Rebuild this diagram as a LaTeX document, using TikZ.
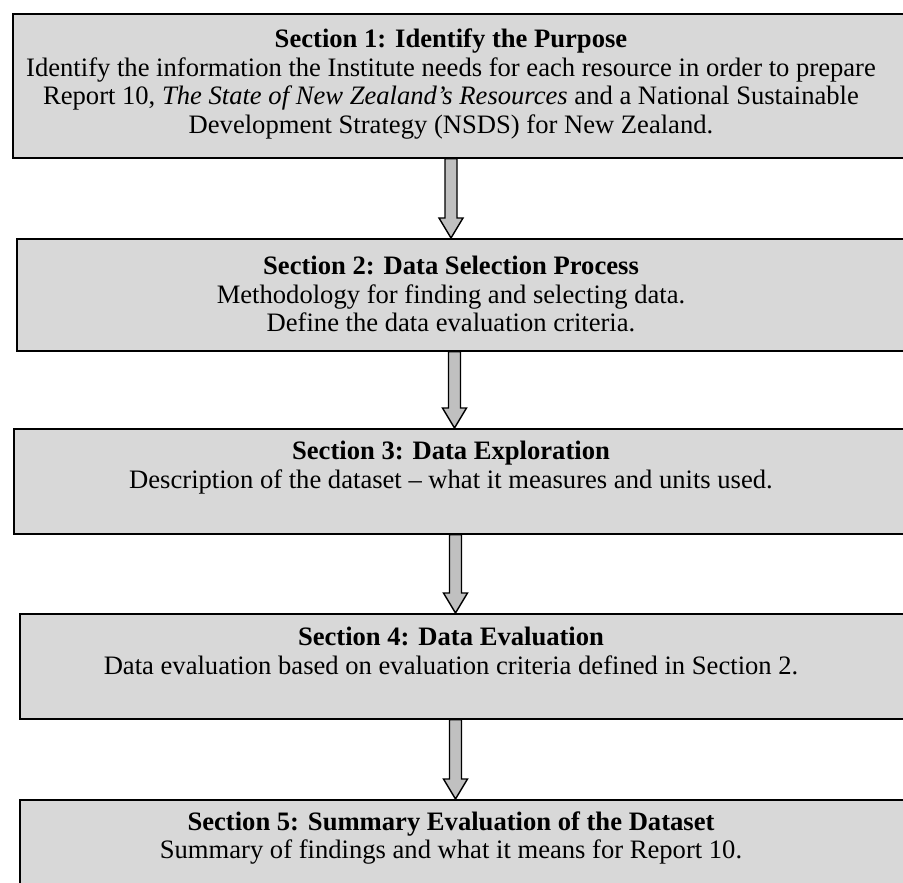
\documentclass[tikz,border=0pt]{standalone}
\usepackage{fontspec}
\setmainfont{Liberation Serif}
\usetikzlibrary{calc}
\definecolor{boxgray}{HTML}{D8D8D8}
\definecolor{arrgray}{HTML}{C0C0C0}
\tikzset{
  secbox/.style={draw=black, line width=0.9pt, fill=boxgray, anchor=north west, minimum width=#1, inner sep=0pt},
  sectext/.style={align=center, font=\fontsize{14.9}{16.2}\selectfont, inner sep=0pt},
  flowarr/.style={draw=black, line width=0.8pt, fill=arrgray, line join=miter}
}
\begin{document}
\begin{tikzpicture}[x=0.56pt,y=-0.56pt]
\clip (0,0) rectangle (903,883);
\fill[white] (0,0) rectangle (903,883);
% boxes
\node[secbox=900*0.56pt, minimum height=144*0.56pt] (b1) at (12,13) {};
\node[secbox=900*0.56pt, minimum height=112*0.56pt] (b2) at (16,238) {};
\node[secbox=900*0.56pt, minimum height=105*0.56pt] (b3) at (13,428) {};
\node[secbox=900*0.56pt, minimum height=105*0.56pt] (b4) at (19,613) {};
\node[secbox=900*0.56pt, minimum height=120*0.56pt] (b5) at (19,799) {};
% texts
\node[sectext] (t1) at (451,84) {\textbf{Section 1: Identify the Purpose}\\
Identify the information the Institute needs for each resource in order to prepare\\
Report 10, \textit{The State of New Zealand’s Resources} and a National Sustainable\\
Development Strategy (NSDS) for New Zealand.};
\node[sectext] (t2) at (451,294) {\textbf{Section 2: Data Selection Process}\\
Methodology for finding and selecting data.\\
Define the data evaluation criteria.};
\node[sectext] (t3) at (451,468) {\textbf{Section 3: Data Exploration}\\
Description of the dataset – what it measures and units used.};
\node[sectext] (t4) at (451,651) {\textbf{Section 4: Data Evaluation}\\
Data evaluation based on evaluation criteria defined in Section 2.};
\node[sectext] (t5) at (451,838) {\textbf{Section 5: Summary Evaluation of the Dataset}\\
Summary of findings and what it means for Report 10.};
% arrow axes
\coordinate (ax1) at (451,0);
\coordinate (ax2) at (454.5,0);
\coordinate (ax3) at (455.5,0);
\coordinate (ax4) at (455.5,0);
\newcommand{\flowarrow}[3]{%
  \draw[flowarr] ($(#1.south -| #3)+(-6,0)$) -- ($(#2.north -| #3)+(-6,-20)$) -- ++(-6,0)
    -- (#2.north -| #3) -- ++(12,-20) -- ++(-6,0) -- ($(#1.south -| #3)+(6,0)$) -- cycle;}
\flowarrow{b1}{b2}{ax1}
\flowarrow{b2}{b3}{ax2}
\flowarrow{b3}{b4}{ax3}
\flowarrow{b4}{b5}{ax4}
\end{tikzpicture}
\end{document}
